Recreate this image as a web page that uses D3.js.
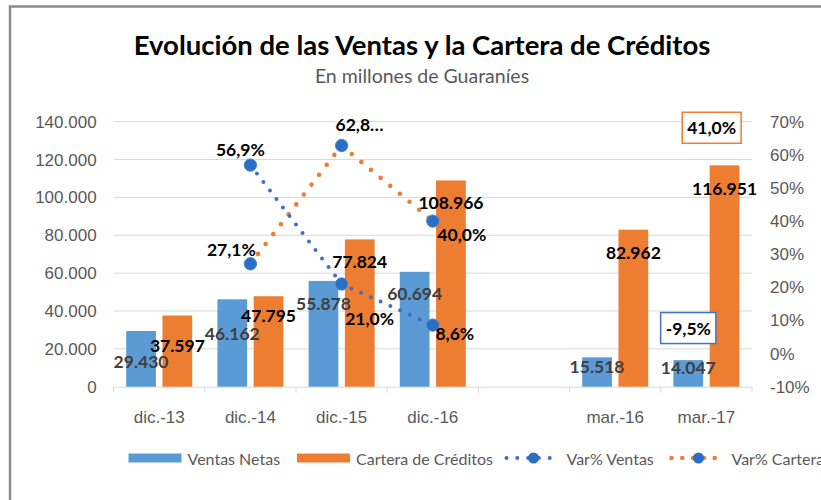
<!DOCTYPE html>
<html lang="es">
<head>
<meta charset="UTF-8">
<title>Evolución de las Ventas y la Cartera de Créditos</title>
<script src="https://d3js.org/d3.v7.min.js"></script>
<style>
    body { margin: 0; background: #fff; }
    svg { display: block; font-family: Lato, "Open Sans", sans-serif; }
    .tick-label { fill: #595959; font-size: 17px; }
    .val { font-size: 17.5px; font-weight: bold; }
    .legend text { fill: #595959; font-size: 16px; }
</style>
</head>
<body>
<svg id="chart" width="821" height="500"></svg>
<script>
// Datos
const categorias = ["dic.-13", "dic.-14", "dic.-15", "dic.-16", "", "mar.-16", "mar.-17"];
const ventasNetas = [29430, 46162, 55878, 60694, null, 15518, 14047];
const carteraCreditos = [37597, 47795, 77824, 108966, null, 82962, 116951];
const varVentas = [null, 56.9, 21.0, 8.6, null, null, null];
const varCartera = [null, 27.1, 62.8, 40.0, null, null, null];
// variaciones interanuales a marzo (solo etiqueta en recuadro)
const varVentasMar = -9.5;
const varCarteraMar = 41.0;
const ticksIzq = [0, 20000, 40000, 60000, 80000, 100000, 120000, 140000];
const ticksDer = [-10, 0, 10, 20, 30, 40, 50, 60, 70];

// posicion de etiquetas (desplazamiento en px desde el extremo de la barra / marcador)
const dyVentas = [31, 34, 23, 22, 0, 9, 7];
const dyCartera = [30, 19, 22, 22, 0, 23, 23];
const offVarVentas = [null, [-10, -16], [28, 34], [22, 8]];
const offVarCartera = [null, [-19, -14], [18, -21], [29, 13]];

const width = 821, height = 500;
const svg = d3.select("#chart");

const loc = d3.formatLocale({ decimal: ",", thousands: ".", grouping: [3], currency: ["", ""], minus: "-" });
const fmtMiles = loc.format(",.0f");
const fmtPct = loc.format(".1f");

svg.append("rect").attr("width", width).attr("height", height).attr("fill", "#fff");
// marco del grafico
svg.append("rect")
    .attr("x", 10).attr("y", 6.5)
    .attr("width", 850).attr("height", 600)
    .attr("fill", "none").attr("stroke", "#8a8a8a").attr("stroke-width", 2.5);

// Titulos
svg.append("text")
    .attr("x", 422).attr("y", 55)
    .attr("text-anchor", "middle")
    .attr("font-size", 27.5).attr("font-weight", "bold").attr("fill", "#000")
    .text("Evolución de las Ventas y la Cartera de Créditos");
svg.append("text")
    .attr("x", 422).attr("y", 83)
    .attr("text-anchor", "middle")
    .attr("font-size", 19.5).attr("fill", "#595959")
    .text("En millones de Guaraníes");

// Escalas
const plot = { left: 113.6, right: 752, top: 121.7, bottom: 386.7 };
const x = d3.scaleBand().domain(categorias).range([plot.left, plot.right]).padding(0);
const x1 = d3.scaleBand().domain(["ventas", "cartera"])
    .range([12.6, x.bandwidth() - 12.6]).paddingInner(0.18);
const yL = d3.scaleLinear().domain([0, 140000]).range([plot.bottom, plot.top]);
const yR = d3.scaleLinear().domain([-10, 70]).range([plot.bottom, plot.top]);

// lineas de division
svg.append("g")
    .selectAll("line")
    .data(ticksIzq.slice(1))
    .join("line")
    .attr("x1", plot.left).attr("x2", plot.right)
    .attr("y1", d => yL(d)).attr("y2", d => yL(d))
    .attr("stroke", "#d9d9d9").attr("stroke-width", 1);

// Ejes
const ejeIzq = svg.append("g")
    .attr("transform", `translate(${plot.left - 17},0)`)
    .call(d3.axisLeft(yL).tickValues(ticksIzq).tickFormat(fmtMiles).tickSize(0).tickPadding(0));
ejeIzq.select(".domain").remove();
ejeIzq.selectAll("text").attr("class", "tick-label").attr("font-family", null).attr("font-size", null).attr("fill", null);

const ejeDer = svg.append("g")
    .attr("transform", `translate(${plot.right + 18},0)`)
    .call(d3.axisRight(yR).tickValues(ticksDer).tickFormat(d => d + "%").tickSize(0).tickPadding(0));
ejeDer.select(".domain").remove();
ejeDer.selectAll("text").attr("class", "tick-label").attr("font-family", null).attr("font-size", null).attr("fill", null);

const ejeX = svg.append("g")
    .attr("transform", `translate(0,${plot.bottom})`)
    .call(d3.axisBottom(x).tickSize(0).tickPadding(24));
ejeX.select(".domain").attr("stroke", "#d9d9d9");
ejeX.selectAll("text").attr("class", "tick-label").attr("font-family", null).attr("font-size", null).attr("fill", null);
// marcas entre categorias
ejeX.selectAll(".sep")
    .data(d3.range(categorias.length + 1))
    .join("line")
    .attr("class", "sep")
    .attr("x1", i => plot.left + i * x.step()).attr("x2", i => plot.left + i * x.step())
    .attr("y1", 0).attr("y2", 6)
    .attr("stroke", "#d9d9d9");

// Barras
const barras = svg.append("g");
barras.selectAll(".bv")
    .data(ventasNetas.map((v, i) => ({ v, c: categorias[i] })).filter(d => d.v != null))
    .join("rect")
    .attr("x", d => x(d.c) + x1("ventas"))
    .attr("y", d => yL(d.v))
    .attr("width", x1.bandwidth())
    .attr("height", d => yL(0) - yL(d.v))
    .attr("fill", "#5b9bd5");
barras.selectAll(".bc")
    .data(carteraCreditos.map((v, i) => ({ v, c: categorias[i] })).filter(d => d.v != null))
    .join("rect")
    .attr("x", d => x(d.c) + x1("cartera"))
    .attr("y", d => yL(d.v))
    .attr("width", x1.bandwidth())
    .attr("height", d => yL(0) - yL(d.v))
    .attr("fill", "#ed7d31");

// Lineas de variacion
const cx = i => x(categorias[i]) + x.bandwidth() / 2;
const linea = d3.line()
    .defined(d => d.v != null)
    .x(d => cx(d.i))
    .y(d => yR(d.v));
const ptsV = varVentas.map((v, i) => ({ v, i }));
const ptsC = varCartera.map((v, i) => ({ v, i }));

svg.append("path")
    .datum(ptsC)
    .attr("d", linea)
    .attr("fill", "none").attr("stroke", "#ed7d31")
    .attr("stroke-width", 4.6).attr("stroke-linecap", "round")
    .attr("stroke-dasharray", "0 12.5");
svg.append("path")
    .datum(ptsV)
    .attr("d", linea)
    .attr("fill", "none").attr("stroke", "#3f6fc4")
    .attr("stroke-width", 4).attr("stroke-linecap", "round")
    .attr("stroke-dasharray", "0 10.7");

const marcadores = svg.append("g");
marcadores.selectAll("circle")
    .data(ptsV.concat(ptsC).filter(d => d.v != null))
    .join("circle")
    .attr("cx", d => cx(d.i))
    .attr("cy", d => yR(d.v))
    .attr("r", 6.2)
    .attr("fill", "#2a6ec6")
    .attr("stroke", "#4a86d3").attr("stroke-width", 1);

// Etiquetas de datos
const etiq = svg.append("g");
ventasNetas.forEach((v, i) => {
    if (v == null) return;
    etiq.append("text").attr("class", "val")
        .attr("x", x(categorias[i]) + x1("ventas") + x1.bandwidth() / 2)
        .attr("y", yL(v) + dyVentas[i])
        .attr("text-anchor", "middle").attr("dominant-baseline", "central")
        .attr("fill", "#404040")
        .text(fmtMiles(v));
});
carteraCreditos.forEach((v, i) => {
    if (v == null) return;
    etiq.append("text").attr("class", "val")
        .attr("x", x(categorias[i]) + x1("cartera") + x1.bandwidth() / 2)
        .attr("y", yL(v) + dyCartera[i])
        .attr("text-anchor", "middle").attr("dominant-baseline", "central")
        .attr("fill", "#000")
        .text(fmtMiles(v));
});
const etiqPct = (serie, offs) => serie.forEach((v, i) => {
    if (v == null) return;
    // la etiqueta de 62,8% aparece recortada en el original
    const txt = v === 62.8 ? fmtPct(v) + "…" : fmtPct(v) + "%";
    etiq.append("text").attr("class", "val")
        .attr("x", cx(i) + offs[i][0])
        .attr("y", yR(v) + offs[i][1])
        .attr("text-anchor", "middle").attr("dominant-baseline", "central")
        .attr("fill", "#000")
        .text(txt);
});
etiqPct(varVentas, offVarVentas);
etiqPct(varCartera, offVarCartera);

// Recuadros de marzo
const recuadro = (v, cxPos, cyPos, color) => {
    const g = svg.append("g");
    const t = g.append("text").attr("class", "val")
        .attr("x", cxPos).attr("y", cyPos)
        .attr("text-anchor", "middle").attr("dominant-baseline", "central")
        .attr("fill", "#000")
        .text(fmtPct(v) + "%");
    const w = t.node().getComputedTextLength();
    g.insert("rect", "text")
        .attr("x", cxPos - w / 2 - 5).attr("y", cyPos - 15.5)
        .attr("width", w + 10).attr("height", 31)
        .attr("fill", "#fff").attr("stroke", color).attr("stroke-width", 1.5);
};
const iMar17 = categorias.indexOf("mar.-17");
recuadro(varVentasMar, x(categorias[iMar17]) + x1("ventas") + x1.bandwidth() / 2, yR(varVentasMar) - 57, "#4472c4");
recuadro(varCarteraMar, x(categorias[iMar17]) + x1("cartera") + 2, yR(varCarteraMar) - 90, "#ed7d31");

// Leyenda
const leyenda = svg.append("g").attr("class", "legend").attr("transform", "translate(0,458)");
const itemsBarra = [
    { nombre: "Ventas Netas", color: "#5b9bd5", x: 128.5 },
    { nombre: "Cartera de Créditos", color: "#ed7d31", x: 297 }
];
itemsBarra.forEach(it => {
    leyenda.append("rect").attr("x", it.x).attr("y", -4.5).attr("width", 53).attr("height", 9).attr("fill", it.color);
    leyenda.append("text").attr("x", it.x + 59).attr("y", 0).attr("dominant-baseline", "central").text(it.nombre);
});
const itemsLinea = [
    { nombre: "Var% Ventas", color: "#3f6fc4", sw: 4, x: 506.5 },
    { nombre: "Var% Cartera", color: "#ed7d31", sw: 4.6, x: 671.5 }
];
itemsLinea.forEach(it => {
    leyenda.append("line")
        .attr("x1", it.x).attr("x2", it.x + 54)
        .attr("stroke", it.color).attr("stroke-width", it.sw)
        .attr("stroke-linecap", "round").attr("stroke-dasharray", "0 10.8");
    leyenda.append("circle").attr("cx", it.x + 27).attr("cy", 0).attr("r", 5.5).attr("fill", "#2a6ec6");
    leyenda.append("text").attr("x", it.x + 60).attr("y", 0).attr("dominant-baseline", "central").text(it.nombre);
});
</script>
</body>
</html>
